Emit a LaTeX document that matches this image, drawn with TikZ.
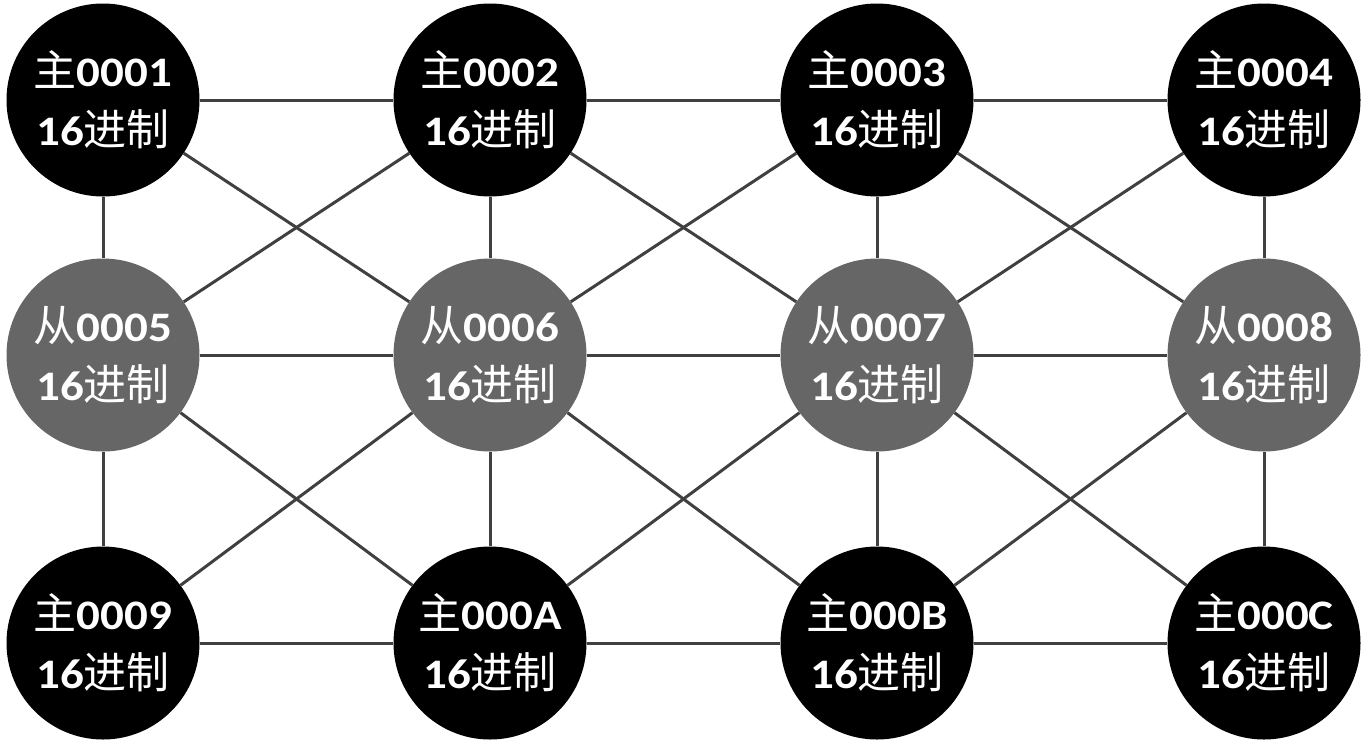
\documentclass[tikz,border=0pt]{standalone}
\usepackage{fontspec}
\setmainfont{Carlito}[FakeStretch=1.12]
\newfontfamily\cjkfont{Noto Sans CJK SC}
\newcommand\zh[1]{{\cjkfont\mdseries\fontsize{43}{60}\selectfont #1}}
\definecolor{slavegray}{HTML}{666666}
\definecolor{edgegray}{HTML}{404040}
\tikzset{
  nodebase/.style={circle, minimum size=193pt, inner sep=0pt, text=white, align=center,
    font=\fontsize{42}{59}\selectfont\bfseries},
  master/.style={nodebase, fill=black},
  slave/.style={nodebase, fill=slavegray},
  link/.style={draw=edgegray, line width=3pt}
}
\begin{document}
\begin{tikzpicture}[x=1pt,y=-1pt]
\useasboundingbox (0,0) rectangle (1370,740);
\node[master] (a1) at (103,100) {\zh{主}0001\\16\zh{进制}};
\node[master] (a2) at (490,100) {\zh{主}0002\\16\zh{进制}};
\node[master] (a3) at (877,100) {\zh{主}0003\\16\zh{进制}};
\node[master] (a4) at (1264,100) {\zh{主}0004\\16\zh{进制}};
\node[slave] (a5) at (103,355) {\zh{从}0005\\16\zh{进制}};
\node[slave] (a6) at (490,355) {\zh{从}0006\\16\zh{进制}};
\node[slave] (a7) at (877,355) {\zh{从}0007\\16\zh{进制}};
\node[slave] (a8) at (1264,355) {\zh{从}0008\\16\zh{进制}};
\node[master] (a9) at (103,643) {\zh{主}0009\\16\zh{进制}};
\node[master] (a10) at (490,643) {\zh{主}000A\\16\zh{进制}};
\node[master] (a11) at (877,643) {\zh{主}000B\\16\zh{进制}};
\node[master] (a12) at (1264,643) {\zh{主}000C\\16\zh{进制}};
\foreach \u/\v in {a1/a2,a2/a3,a3/a4,a5/a6,a6/a7,a7/a8,a9/a10,a10/a11,a11/a12,
  a1/a5,a2/a6,a3/a7,a4/a8,a5/a9,a6/a10,a7/a11,a8/a12,
  a1/a6,a2/a5,a2/a7,a3/a6,a3/a8,a4/a7,
  a5/a10,a6/a9,a6/a11,a7/a10,a7/a12,a8/a11}
  \draw[link] (\u) -- (\v);
\end{tikzpicture}
\end{document}
